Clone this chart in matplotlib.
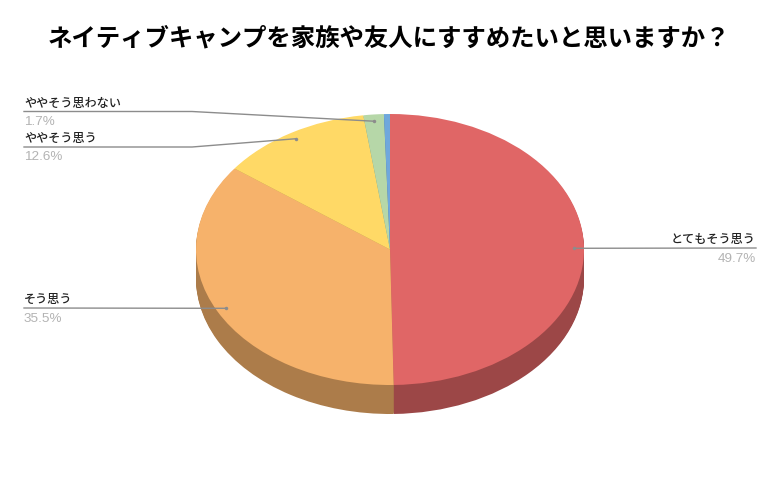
import numpy as np
import matplotlib
matplotlib.use('Agg')
import matplotlib.pyplot as plt

plt.rcParams['font.family'] = ['Noto Sans CJK JP', 'DejaVu Sans']

# Data
categories = ['とてもそう思う', 'そう思う', 'ややそう思う', 'ややそう思わない', 'そう思わない']
values = [49.7, 35.5, 12.6, 1.7, 0.5]
pct_labels = ['49.7%', '35.5%', '12.6%', '1.7%']
colors = ['#e06666', '#f6b26b', '#ffd966', '#b6d7a8', '#6fa8dc']
side_colors = ['#9c4747', '#ac7c4a', '#b29747', '#7f9675', '#4d7599']
title = 'ネイティブキャンプを家族や友人にすすめたいと思いますか？'

W, H = 780, 482
cx, cy, rx, ry, depth = 390, 249.5, 194, 135.5, 29

fig = plt.figure(figsize=(W / 100, H / 100), dpi=100, facecolor='white')

# pie axes, stretched so the circle becomes an ellipse
ax = fig.add_axes([0, 0, 1, 1])
for dy in range(depth, 0, -1):
    ax.pie(values, colors=side_colors, startangle=90, counterclock=False, radius=1,
           center=(0, -dy / ry), wedgeprops={'linewidth': 0.6, 'edgecolor': 'none'})
ax.pie(values, colors=colors, startangle=90, counterclock=False, radius=1,
       wedgeprops={'linewidth': 0})
ax.set_aspect('auto')
ax.set_xlim((0 - cx) / rx, (W - cx) / rx)
ax.set_ylim((cy - H) / ry, cy / ry)
ax.axis('off')

# overlay in pixel coordinates for leaders and text
ov = fig.add_axes([0, 0, 1, 1], facecolor='none')
ov.set_xlim(0, W)
ov.set_ylim(H, 0)
ov.axis('off')

ov.text(388.5, 38, title, fontsize=17.6, fontweight='bold', color='black', ha='center', va='center')

# (line y, elbow x, label end x, side)
leaders = [(248, None, 756, 'right'),
           (308, None, 24, 'left'),
           (147, 192, 24, 'left'),
           (111.5, 192, 24, 'left')]

cum = np.cumsum([0] + values)
total = sum(values)
for i, (ly, ex, end, side) in enumerate(leaders):
    ang = 2 * np.pi * (cum[i] + values[i] / 2) / total
    ax0 = cx + 0.95 * rx * np.sin(ang)
    ay0 = cy - 0.95 * ry * np.cos(ang)
    xs = [ax0] + ([ex] if ex else []) + [end]
    ys = [ay0] + ([ly] if ex else []) + [ly]
    ov.plot(xs, ys, color='#8c8c8c', lw=1.0, solid_joinstyle='round')
    ov.plot([ax0], [ay0], 'o', color='#8c8c8c', ms=2.5, mew=0)
    ov.text(end, ly - 2, categories[i], fontsize=8.7, fontweight='medium', color='#222222', ha=side, va='bottom')
    ov.text(end, ly + 4.5, pct_labels[i], fontsize=9.7, color='#b3b3b3', ha=side, va='top',
            family=['Liberation Sans', 'DejaVu Sans'])

fig.savefig('out.png', dpi=100, facecolor='white')
